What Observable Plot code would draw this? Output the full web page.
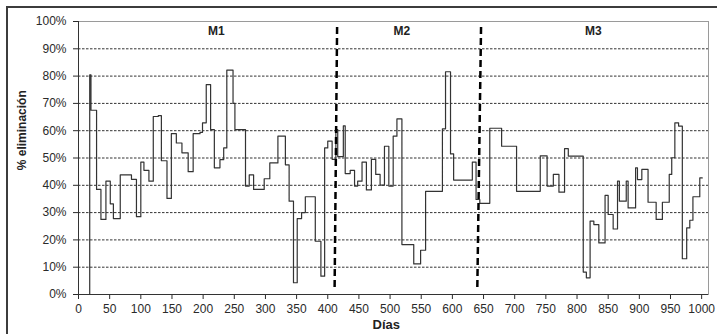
<!DOCTYPE html>
<html><head><meta charset="utf-8">
<script src="https://cdn.jsdelivr.net/npm/d3@7"></script>
<script src="https://cdn.jsdelivr.net/npm/@observablehq/plot@0.6"></script>
<style>
body{margin:0;background:#fff;overflow:hidden;width:717px;height:334px;position:relative;font-family:"Liberation Sans",Arial,sans-serif}
#chart{position:absolute;left:0;top:0}
#border{position:absolute;left:6px;top:6px;width:800px;height:400px;border:2px solid #3c3c3c;pointer-events:none}
</style></head><body>
<div id="chart"></div><div id="border"></div>
<script>
const days = [17,18,20,29,36,44,51,56,67,85,
  93,100,105,113,120,128,133,142,149,157,
  166,176,184,195,199,205,212,218,227,233,
  238,248,251,268,274,281,298,307,320,332,
  338,345,351,358,364,380,389,395,400,407,
  413,416,425,428,436,443,448,455,
  462,470,477,484,491,498,505,511,519,538,
  549,557,584,589,597,602,632,638,644,660,
  679,703,741,752,762,771,780,786,810,815,
  821,827,835,845,850,858,865,868,879,882,
  894,897,904,914,927,937,948,952,957,963,
  969,976,981,986,997,1001];
const values = [0,80.5,67.5,38.5,27.5,41.5,33.2,27.8,43.8,42.2,
  28.5,48.5,45.5,41.5,65.2,65.5,49,35.2,58.9,55.5,
  51.9,45,58.9,59.4,62.9,76.9,60.4,46.4,49.4,53.7,
  82.2,70,60.4,39.7,43.8,38.5,42.4,48.2,58,47.5,
  34.2,4.3,27.8,30,35.8,19.5,6.7,53.7,56.2,49.5,
  60.4,50.5,61.8,44.3,45.5,39.7,41.5,48.5,
  38.3,49.5,44,40.1,54.3,39.7,58,64.3,18.3,11.2,
  16.2,37.8,60.7,81.6,51.5,41.9,48.5,34.8,33.4,60.9,
  54.3,37.8,50.8,39.7,44,37.5,53.4,50.7,8.2,6.1,
  26.9,25.6,18.9,36.3,29.3,24,41.5,34.2,41.5,31.7,
  46.4,42.1,45.8,33.8,27.5,33.8,44,50.1,62.9,61.7,
  13.1,24.4,27.2,35.8,42.7,42.7];

const xTicks = d3.range(0, 1001, 50);
const yTicks = d3.range(0, 101, 10);
const gridLevels = d3.range(10, 91, 10);
const xMax = 1011;

const phaseLabels = ["M1", "M2", "M3"];
const phaseLabelDays = [221, 519, 826];
const phaseLabelLevel = 96.5;

const boundaryTopDays = [415, 646];
const boundaryBottomDays = [411, 640];
const boundaryTopLevel = 98;
const boundaryBottomLevel = 2.4;

const xTitle = "Días";
const yTitle = "% eliminación";

const series = days.map((d, i) => ({day: d, value: values[i]}));

const chart = Plot.plot({
  width: 717,
  height: 334,
  marginLeft: 78,
  marginRight: 9,
  marginTop: 21,
  marginBottom: 40,
  style: {fontFamily: "Liberation Sans, Arial, sans-serif", fontSize: "12px", color: "#2a2a2a", background: "transparent"},
  x: {domain: [0, xMax], ticks: xTicks, tickFormat: d => String(d), tickSize: 5, tickPadding: 5, label: null},
  y: {domain: [0, 100], ticks: yTicks, tickFormat: d => d + "%", tickSize: 5, tickPadding: 7, label: null},
  marks: [
    Plot.ruleY(gridLevels, {stroke: "#333", strokeWidth: 1, strokeDasharray: "2.5,1.5"}),
    Plot.frame({stroke: "#9a9a9a"}),
    Plot.ruleX([0], {stroke: "#333"}),
    Plot.ruleY([0], {stroke: "#333"}),
    Plot.line(series, {x: "day", y: "value", curve: "step-after", stroke: "#333", strokeWidth: 1.2}),
    Plot.link(boundaryTopDays, {
      x1: d => d, y1: () => boundaryTopLevel,
      x2: (d, i) => boundaryBottomDays[i], y2: () => boundaryBottomLevel,
      stroke: "#000", strokeWidth: 2.5, strokeDasharray: "7,4"
    }),
    Plot.text(phaseLabels, {x: (d, i) => phaseLabelDays[i], y: () => phaseLabelLevel, text: d => d, fontWeight: "bold", fontSize: 12, fill: "#222"}),
    Plot.text([yTitle], {y: () => 45.5, frameAnchor: "left", dx: -56, rotate: -90, text: d => d, fontWeight: "bold", fontSize: 12, fill: "#222"}),
    Plot.text([xTitle], {x: () => 494, frameAnchor: "bottom", dy: 34, text: d => d, fontWeight: "bold", fontSize: 13, fill: "#222"})
  ]
});
document.getElementById("chart").appendChild(chart);
</script>
</body></html>
